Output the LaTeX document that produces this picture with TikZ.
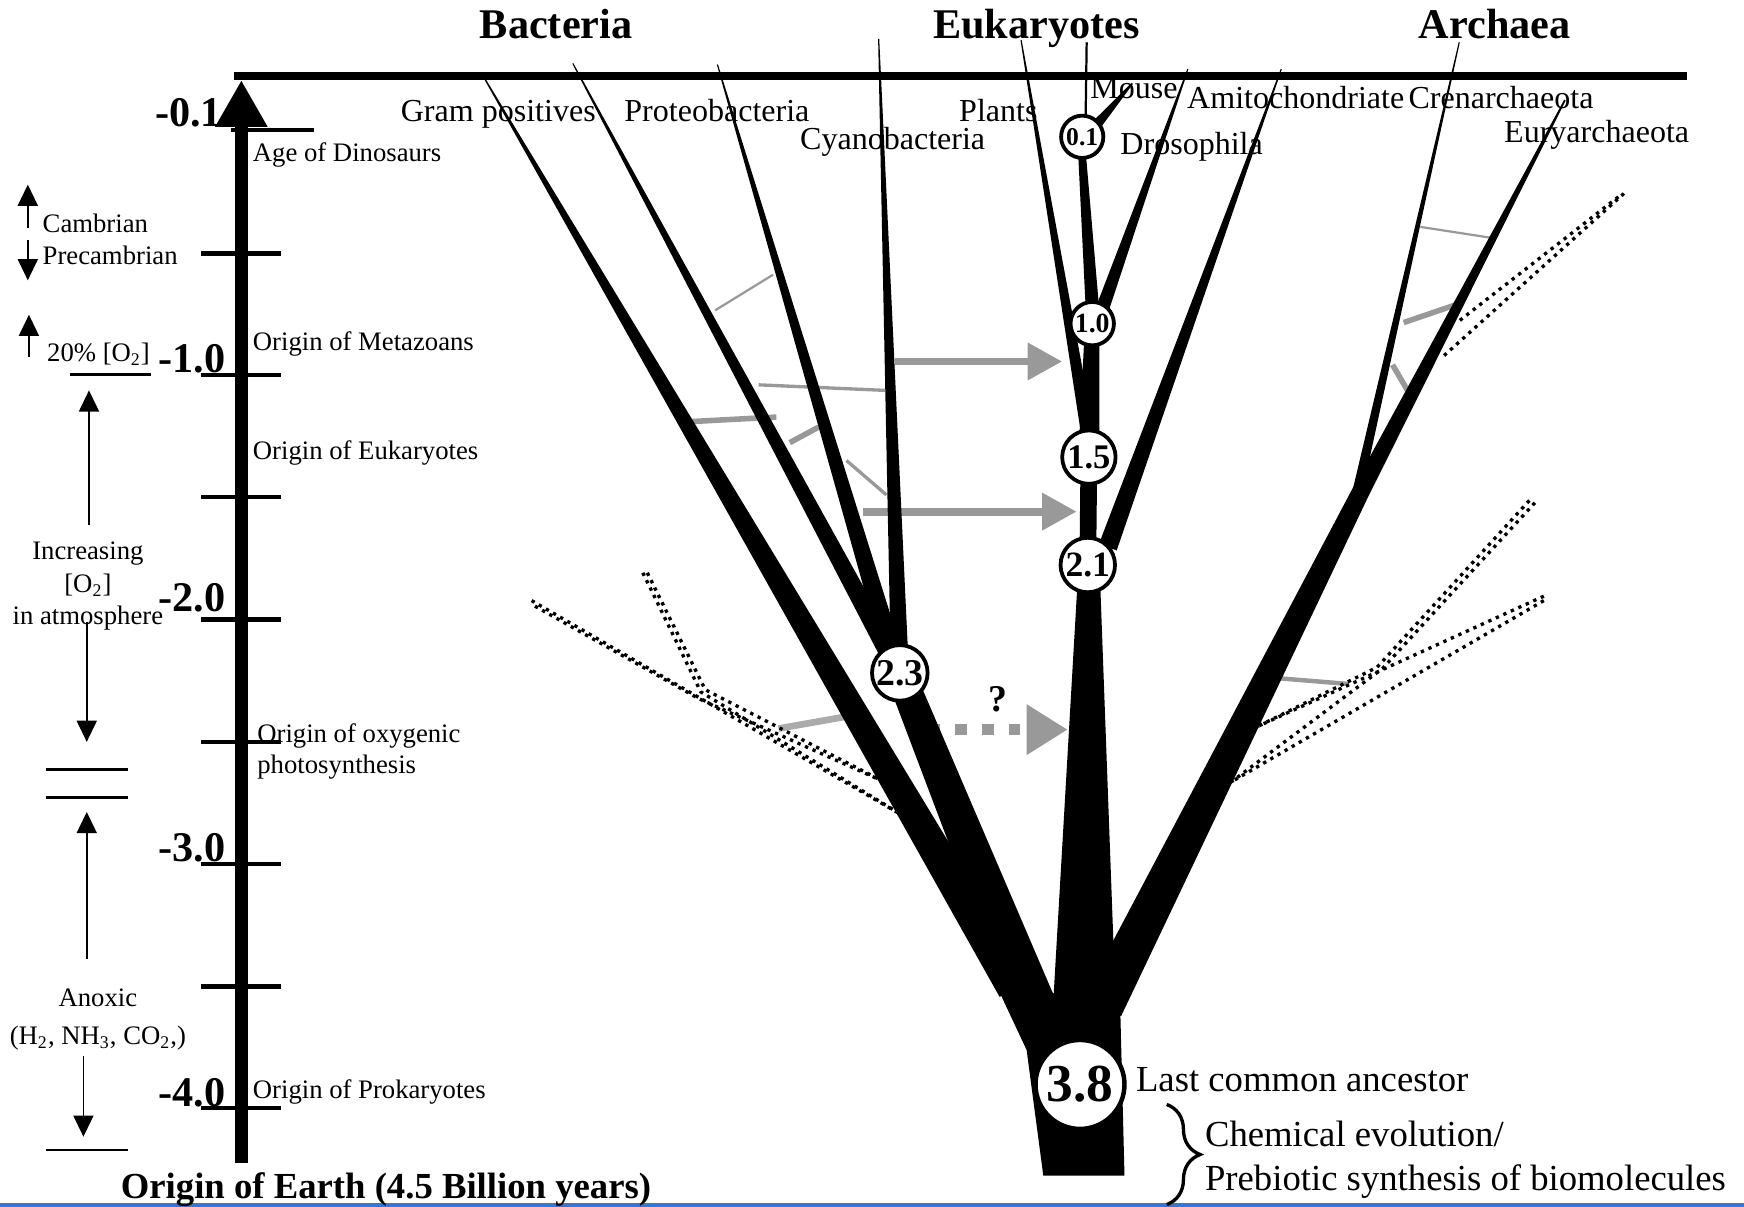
\documentclass[tikz,border=0pt]{standalone}
\usepackage{fontspec}
\setmainfont{Liberation Serif}
\usetikzlibrary{arrows.meta,calc,positioning,decorations.pathreplacing}
\definecolor{tolInk}{HTML}{000000}
\definecolor{tolGray}{HTML}{999999}
\definecolor{tolPale}{HTML}{ABABAB}
\definecolor{tolBlue}{HTML}{3378D8}
\tikzset{
 tol/.style={x=.5pt,y=-.5pt,line join=miter,text=tolInk},
 limb/.style={fill=tolInk},
 oneline/.style={text depth=0pt},
 taxon/.style={font=\fontsize{14.4}{17}\selectfont,anchor=west,inner sep=0pt,oneline,text height=9.5pt},
 era/.style={font=\fontsize{12}{14}\selectfont,anchor=west,inner sep=0pt},
 eraline/.style={era,oneline,text height=7.9pt},
 note/.style={font=\fontsize{16.5}{19}\selectfont,anchor=west,inner sep=0pt,oneline,text height=10.9pt},
 kingdom/.style={font=\fontsize{19}{22}\selectfont\bfseries,inner sep=0pt,oneline,text height=12.5pt},
 mya/.style={font=\fontsize{19}{22}\selectfont\bfseries,anchor=base east,inner sep=0pt},
 side/.style={font=\fontsize{12}{14.5}\selectfont,inner sep=0pt,align=center,anchor=north},
 agetick/.style={line width=2pt},
 bar/.style={line width=1.2pt},
 pointer/.style={line width=.7pt,-{Triangle[length=9.5pt,width=9pt]}},
 split/.style={circle,draw=tolInk,fill=white,line width=1.7pt,inner sep=0pt},
 link/.style={draw=tolGray},
 transfer/.style={draw=tolGray,line width=3.5pt,-{Triangle[length=15.5pt,width=16pt]}},
 ghost/.style={draw=tolInk,line width=1.5pt,dash pattern=on 1.5pt off 2.2pt},
}
% tapered branch: x1 y1 x2 y2 width1 width2 (picture units)
\newcommand{\limb}[6]{%
 \fill[limb] ($(#1,#2)!#5*.25pt!90:(#3,#4)$) -- ($(#3,#4)!#6*.25pt!-90:(#1,#2)$)
  -- ($(#3,#4)!#6*.25pt!90:(#1,#2)$) -- ($(#1,#2)!#5*.25pt!-90:(#3,#4)$) -- cycle;}

\begin{document}
\begin{tikzpicture}[tol]
 \useasboundingbox (0,0) rectangle (1568,1085);
 \draw[tolBlue,line width=1.5pt] (0,1083.5) -- (1568,1083.5);

 % gene transfer between lineages
 \draw[link,line width=1pt] (643,279) -- (695,247);
 \draw[link,line width=1.5pt] (682,346) -- (796,351);
 \draw[link,line width=2.5pt] (622,379) -- (698,375);
 \draw[link,line width=2.5pt] (710,398) -- (736,384);
 \draw[link,line width=1.5pt] (761,414) -- (797,445);
 \draw[link,draw=tolPale,line width=3pt] (700,655) -- (768,643);
 \draw[link,line width=1pt] (1277,204) -- (1342,214);
 \draw[link,line width=2.5pt] (1262,290) -- (1309,274);
 \draw[link,line width=2.5pt] (1252,328) -- (1266,352);
 \draw[link,line width=2pt] (1152,610) -- (1213,615);

 % extinct lineages
 \draw[ghost] (478,540) -- (813,734);
 \draw[ghost] (481,545) -- (628,628) -- (793,702);
 \draw[ghost] (578,515) -- (630,622) -- (813,734);
 \draw[ghost] (582,515) -- (634,620) -- (793,702);
 \draw[ghost] (1375,450) -- (1238,600) -- (1131,653);
 \draw[ghost] (1380,452) -- (1243,601) -- (1107,703);
 \draw[ghost] (1388,536) -- (1131,653);
 \draw[ghost] (1388,540) -- (1107,703);
 \draw[ghost] (1460,174) -- (1298,320);
 \draw[ghost] (1455,177) -- (1310,290);

 % transfers into the eukaryote stem
 \coordinate (mitoA) at (805,325); \coordinate (mitoB) at (955,325);
 \coordinate (plasA) at (776,460); \coordinate (plasB) at (968,460);
 \coordinate (oxyA) at (835,656); \coordinate (oxyB) at (960,656);
 \draw[transfer] (mitoA) -- (mitoB);
 \draw[transfer] (plasA) -- (plasB);
 \draw[transfer,line width=5pt,dash pattern=on 5.25pt off 6.75pt,-{Triangle[length=18.5pt,width=21.5pt]}] (oxyA) -- (oxyB);
 \node[font=\fontsize{17}{19}\selectfont\bfseries,inner sep=0pt] (query) at (897,629) {?};

 % the tree
 \fill[limb] (938,1057) -- (1011,1057) -- (1007,900) -- (947,893) -- (900,870) -- (893,880) -- (923,944) -- cycle;
 \limb{975}{900}{979}{520}{56}{20}
 \limb{978}{508}{979}{411}{15}{15}
 \limb{979}{411}{982}{291}{19}{13}
 \limb{973}{141}{982}{275}{7}{12}
 \limb{977}{38}{976}{110}{2}{2}
 \limb{986}{112}{1018}{75}{9}{1.5}
 \limb{918}{36}{978}{390}{1}{12}
 \limb{1068}{62}{991}{278}{1}{12}
 \limb{1152}{62}{996}{492}{1}{17}
 \limb{991}{905}{1222}{445}{38}{16}
 \limb{1222}{445}{1407}{90}{16}{1.5}
 \limb{1312}{38}{1219}{448}{1}{9}
 \limb{433}{66}{913}{888}{1}{33}
 \limb{515}{57}{809}{605}{1}{18}
 \limb{645}{58}{806}{600}{1}{18}
 \limb{790}{35}{809}{600}{1}{16}
 \limb{809}{605}{930}{905}{26}{40}

 % divergence times
 \node[split,minimum size=19pt,font=\fontsize{11.5}{12}\selectfont\bfseries] (n01) at (973,123) {0.1};
 \node[split,minimum size=19.5pt,font=\fontsize{12.5}{14}\selectfont\bfseries] (n10) at (982,291) {1.0};
 \node[split,minimum size=24pt,font=\fontsize{15.5}{17}\selectfont\bfseries] (n15) at (979,411) {1.5};
 \node[split,minimum size=24.5pt,font=\fontsize{16}{18}\selectfont\bfseries] (n21) at (978,508) {2.1};
 \node[split,minimum size=25pt,font=\fontsize{17}{19}\selectfont\bfseries] (n23) at (809,605) {2.3};
 \node[split,minimum size=40pt,line width=2pt,font=\fontsize{24}{26}\selectfont\bfseries] (n38) at (971,975) {3.8};

 % present day and time axis
 \draw[line width=3.5pt] (210,68) -- (1517,68);
 \draw[line width=6pt,-{Triangle[length=21pt,width=22pt]}] (217,1046) -- (217,72);
 \draw[agetick] (208,117) -- (282,117);
 \foreach \y in {228,337,447,557,667,777,887,996}
  \draw[agetick] (181,\y) -- (253,\y);
 \node[mya] (t01) at (200,114) {-0.1};
 \node[mya] (t10) at (203,335) {-1.0};
 \node[mya] (t20) at (203,550) {-2.0};
 \node[mya] (t30) at (203,775) {-3.0};
 \node[mya] (t40) at (203,995) {-4.0};
 \node[eraline] (dino) at (227,137) {Age of Dinosaurs};
 \node[eraline] (meta) at (227,307) {Origin of Metazoans};
 \node[eraline] (eukor) at (227,405) {Origin of Eukaryotes};
 \node[era,anchor=north west,align=left,font=\fontsize{12}{14}\selectfont] (photo) at (231,650) {Origin of oxygenic\\photosynthesis};
 \node[eraline] (prok) at (227,980) {Origin of Prokaryotes};

 % atmosphere column
 \node[eraline] (camb) at (38,201) {Cambrian};
 \node[eraline] (precamb) at (38,230) {Precambrian};
 \draw[pointer] (25,205) -- (25,166);
 \draw[pointer] (25,216) -- (25,252);
 \node[eraline] (ox20) at (42,317) {20\% [O\textsubscript{2}]};
 \draw[pointer] (26,321) -- (26,283);
 \draw[bar] (63,337) -- (136,337);
 \node[side] (incr) at (79,487) {Increasing\\{[O\textsubscript{2}]}\\in atmosphere};
 \draw[pointer] (80,472) -- (80,351);
 \draw[pointer] (78,559) -- (78,667);
 \draw[bar] (41,692) -- (115,692);
 \draw[bar] (41,717) -- (115,717);
 \draw[pointer] (78,862) -- (78,730);
 \node[side,font=\fontsize{12}{17}\selectfont] (anox) at (88,889) {Anoxic\\(H\textsubscript{2}, NH\textsubscript{3}, CO\textsubscript{2},)};
 \draw[pointer] (75,949) -- (75,1022);
 \draw[bar] (41,1034) -- (115,1034);
 \node[kingdom,font=\fontsize{16.5}{19}\selectfont\bfseries,text height=10.9pt] (earth) at (347,1067) {Origin of Earth (4.5 Billion years)};

 % domains and lineages
 \node[kingdom] (bact) at (500,22) {Bacteria};
 \node[kingdom] (eukhd) at (932,22) {Eukaryotes};
 \node[kingdom] (arch) at (1344,22) {Archaea};
 \node[taxon] (gram) at (360,100) {Gram positives};
 \node[taxon] (proteo) at (561,100) {Proteobacteria};
 \node[taxon] (cyano) at (719,125) {Cyanobacteria};
 \node[taxon] (plant) at (862,100) {Plants};
 \node[taxon] (mouse) at (980,79) {Mouse};
 \node[taxon] (amito) at (1067,88) {Amitochondriate};
 \node[taxon] (cren) at (1266,88) {Crenarchaeota};
 \node[taxon] (eury) at (1352,119) {Euryarchaeota};
 \node[taxon] (droso) at (1007,129) {Drosophila};
 \node[note] (lca) at (1021,970) {Last common ancestor};
 \node[note] (chem) at (1083,1020) {Chemical evolution/};
 \node[note] (preb) at (1083,1059) {Prebiotic synthesis of biomolecules};
 \draw[line width=1.5pt,decorate,decoration={brace,amplitude=15pt}] (1049,993) -- (1049,1083);
\end{tikzpicture}
\end{document}
